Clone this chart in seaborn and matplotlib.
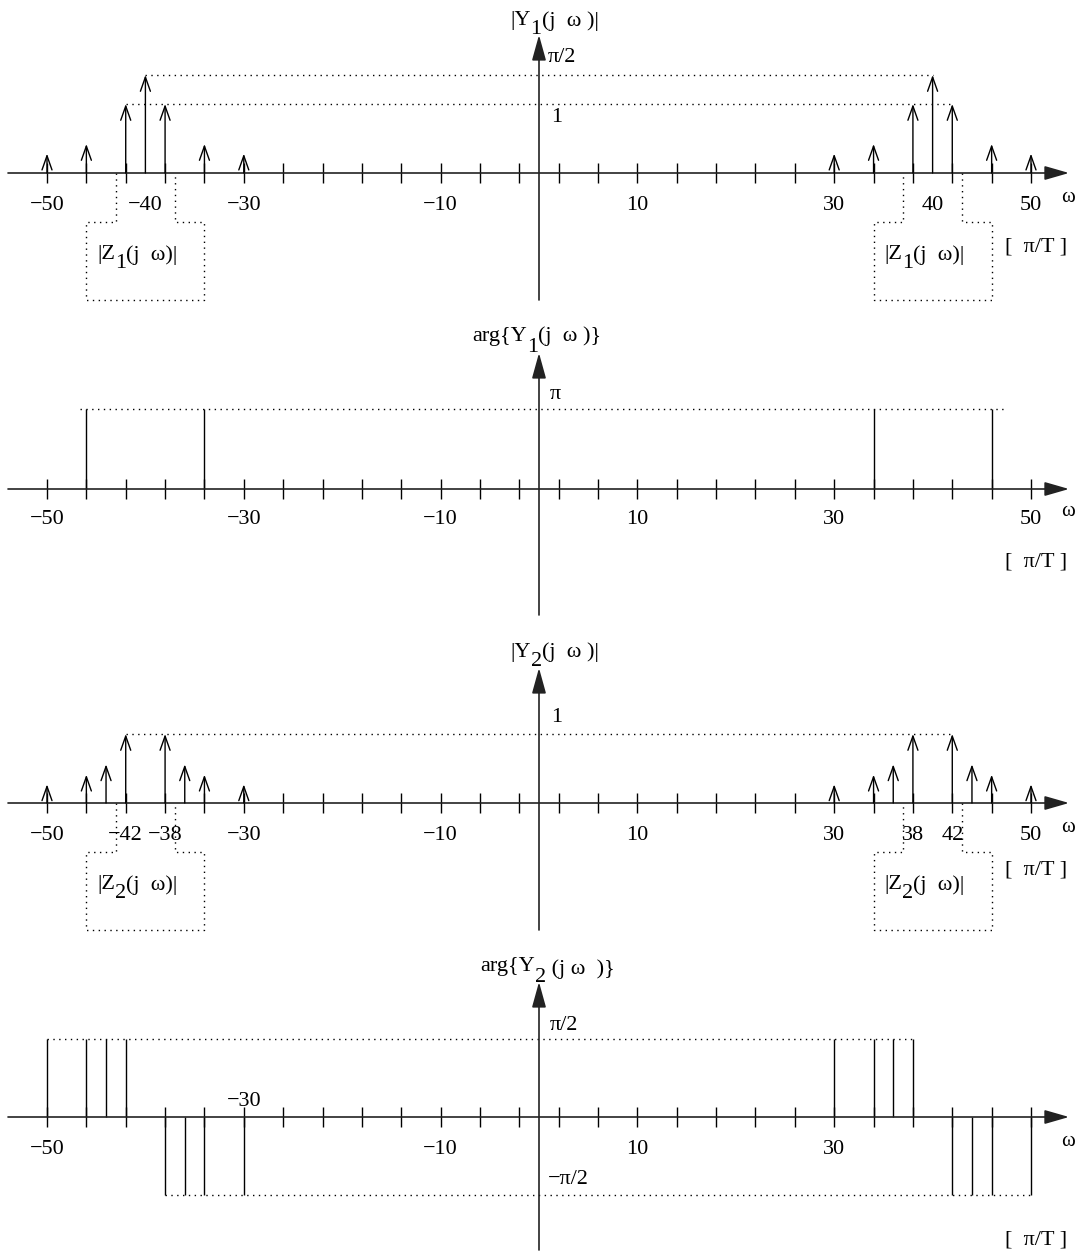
#!/usr/bin/env python3
"""Spectra of y1 and y2: magnitude and phase line spectra, drawn xfig-style."""

import matplotlib

matplotlib.use("Agg")
import matplotlib.pyplot as plt
import numpy as np
import seaborn as sns

W, H = 1083, 1255
X0_PX = 539.0          # pixel column of omega = 0
PX_PER_W = 9.84        # pixels per omega unit (pi/T)

# axis ticks (omega in pi/T)
TICKS = [-50, -46, -42, -38, -34, -30, -26, -22, -18, -14, -10, -6, -2,
         2, 6, 10, 14, 18, 22, 26, 30, 34, 38, 42, 46, 50]

# |Y1(j omega)|  (drawn heights, 1 = unit line, pi/2 line above it)
Y1_W = [-50, -46, -42, -40, -38, -34, -30, 30, 34, 38, 40, 42, 46, 50]
Y1_MAG = [0.28, 0.42, 1.0, 1.42, 1.0, 0.42, 0.28,
          0.28, 0.42, 1.0, 1.42, 1.0, 0.42, 0.28]

# arg{Y1(j omega)} in units of pi
Y1_PH_W = [-46, -34, 34, 46]
Y1_PHASE = [1.0, 1.0, 1.0, 1.0]

# |Y2(j omega)|
Y2_W = [-50, -46, -44, -42, -38, -36, -34, -30, 30, 34, 36, 38, 42, 44, 46, 50]
Y2_MAG = [0.27, 0.41, 0.56, 1.0, 1.0, 0.56, 0.41, 0.27,
          0.27, 0.41, 0.56, 1.0, 1.0, 0.56, 0.41, 0.27]

# arg{Y2(j omega)} in units of pi
Y2_PH_W = [-50, -46, -44, -42, -38, -36, -34, -30, 30, 34, 36, 38, 42, 44, 46, 50]
Y2_PHASE = [0.5, 0.5, 0.5, 0.5, -0.5, -0.5, -0.5, -0.5,
            0.5, 0.5, 0.5, 0.5, -0.5, -0.5, -0.5, -0.5]

# tick labels per panel
LAB_Y1 = [-50, -40, -30, -10, 10, 30, 40, 50]
LAB_PH1 = [-50, -30, -10, 10, 30, 50]
LAB_Y2 = [-50, -42, -38, -30, -10, 10, 30, 38, 42, 50]
LAB_PH2 = [-50, -10, 10, 30]

DOT = (0, (1, 3.2))
FONT = ["Liberation Serif", "DejaVu Serif"]
FS = 16


def w_of(px):
    return (px - X0_PX) / PX_PER_W


def minus(v):
    return f"{v}".replace("-", "\u2212")


def make_panel(fig, top, bottom, axis_px, ppu):
    ax = fig.add_axes([0, 1 - bottom / H, 1, (bottom - top) / H])
    ax.set_xlim(w_of(0), w_of(W))
    ax.set_ylim(-(bottom - axis_px) / ppu, (axis_px - top) / ppu)
    ax.set_axis_off()
    return ax


def draw_axes(ax, ppu, y_bottom_px, y_tip_px):
    # omega axis with filled arrow
    ax.annotate("", xy=(w_of(1069), 0), xytext=(w_of(8), 0),
                arrowprops=dict(arrowstyle="-|>,head_length=1.25,head_width=0.36",
                                lw=1.2, color="#222222", shrinkA=0, shrinkB=0))
    ax.vlines(TICKS, -10 / ppu, 10 / ppu, lw=1.0, color="black")
    # vertical axis
    ax.annotate("", xy=(0, y_tip_px / ppu), xytext=(0, y_bottom_px / ppu),
                arrowprops=dict(arrowstyle="-|>,head_length=1.3,head_width=0.36",
                                lw=1.2, color="#222222", shrinkA=0, shrinkB=0))


def tick_labels(ax, values, dy=-32):
    for v in values:
        ax.annotate(minus(v), xy=(v, 0), xytext=(0, dy), textcoords="offset pixels",
                    ha="center", va="center", fontsize=FS)


def unit_labels(ax, dy_pi_t, dy_omega):
    ax.annotate("\u03c9", xy=(w_of(1068), 0), xytext=(0, -dy_omega),
                textcoords="offset pixels", ha="center", va="center", fontsize=15)
    ax.annotate("[  \u03c0/T ]", xy=(w_of(1036), 0), xytext=(0, -dy_pi_t),
                textcoords="offset pixels", ha="center", va="center", fontsize=FS)


def label(fig, s, x, y, size=FS):
    fig.text(x / W, 1 - y / H, s, ha="left", va="center", fontsize=size)


def compose(fig, x, y, parts, size=FS):
    # lay text pieces side by side; dy shifts a piece down (subscripts)
    r = fig.canvas.get_renderer()
    for s, dy in parts:
        t = fig.text(x / W, 1 - (y + dy) / H, s, ha="left", va="center", fontsize=size)
        x = t.get_window_extent(r).x1


def arrows(ax, ws, hs):
    for w, h in zip(ws, hs):
        ax.annotate("", xy=(w, h), xytext=(w, 0),
                    arrowprops=dict(arrowstyle="->,head_length=0.85,head_width=0.3",
                                    lw=1.0, color="black", shrinkA=0, shrinkB=0))


def guide(ax, y, x0, x1):
    ax.plot([x0, x1], [y, y], ls=DOT, lw=1.0, color="black")


def z_boxes(ax, ppu):
    notch, base = -49 / ppu, -127 / ppu
    for s in (-1, 1):
        xs = [s * 43, s * 43, s * 46, s * 46, s * 34, s * 34, s * 37, s * 37]
        ys = [0, notch, notch, base, base, notch, notch, 0]
        ax.plot(xs, ys, ls=DOT, lw=1.0, color="black")


def z_labels(fig, y, sub):
    for x in (97, 884):
        compose(fig, x, y, [("|Z", 0), (sub, 8), ("(j  \u03c9)|", 0)])


def main():
    sns.set_theme(style="white")
    plt.rcParams["font.family"] = FONT
    plt.rcParams["text.color"] = "black"

    fig = plt.figure(figsize=(W / 100, H / 100), dpi=100)
    fig.patch.set_facecolor("white")

    # ---- panel 1: |Y1| ----
    ppu1 = 69.0
    ax1 = make_panel(fig, 0, 315, 173, ppu1)
    draw_axes(ax1, ppu1, -127, 138)
    mag1 = np.array(Y1_MAG)
    w1 = np.array(Y1_W)
    top1 = mag1.max()
    guide(ax1, top1, w1[mag1 == top1].min(), w1[mag1 == top1].max())
    guide(ax1, 1.0, w1[mag1 == 1.0].min(), w1[mag1 == 1.0].max())
    arrows(ax1, Y1_W, Y1_MAG)
    z_boxes(ax1, ppu1)
    tick_labels(ax1, LAB_Y1)
    unit_labels(ax1, 74, 24)
    compose(fig, 510, 21, [("|Y", 0), ("1", 8), ("(j  \u03c9 )|", 0)])
    label(fig, "\u03c0/2", 548, 58)
    label(fig, "1", 551, 117)
    z_labels(fig, 255, "1")

    # ---- panel 2: arg{Y1} ----
    ppu2 = 80.0
    ax2 = make_panel(fig, 315, 630, 489, ppu2)
    draw_axes(ax2, ppu2, -126, 136)
    guide(ax2, max(Y1_PHASE), w_of(80), w_of(1007))
    ax2.vlines(Y1_PH_W, 0, Y1_PHASE, lw=1.0, color="black")
    tick_labels(ax2, LAB_PH1, dy=-31)
    unit_labels(ax2, 73, 23)
    compose(fig, 472, 336, [("arg{Y", 0), ("1", 12), ("(j  \u03c9 )}", 0)])
    label(fig, "\u03c0", 550, 395)

    # ---- panel 3: |Y2| ----
    ppu3 = 69.0
    ax3 = make_panel(fig, 630, 945, 803, ppu3)
    draw_axes(ax3, ppu3, -127, 135)
    mag2 = np.array(Y2_MAG)
    w2 = np.array(Y2_W)
    guide(ax3, 1.0, w2[mag2 == 1.0].min(), w2[mag2 == 1.0].max())
    arrows(ax3, Y2_W, Y2_MAG)
    z_boxes(ax3, ppu3)
    tick_labels(ax3, LAB_Y2)
    unit_labels(ax3, 67, 25)
    compose(fig, 510, 652, [("|Y", 0), ("2", 10), ("(j  \u03c9 )|", 0)])
    label(fig, "1", 551, 718)
    z_labels(fig, 885, "2")

    # ---- panel 4: arg{Y2} ----
    ppu4 = 156.0
    ax4 = make_panel(fig, 945, 1255, 1117, ppu4)
    draw_axes(ax4, ppu4, -133, 135)
    ph2 = np.array(Y2_PHASE)
    wp2 = np.array(Y2_PH_W)
    guide(ax4, ph2.max(), wp2[ph2 > 0].min(), wp2[ph2 > 0].max())
    guide(ax4, ph2.min(), wp2[ph2 < 0].min(), wp2[ph2 < 0].max())
    ax4.vlines(Y2_PH_W, 0, Y2_PHASE, lw=1.0, color="black")
    tick_labels(ax4, LAB_PH2)
    tick_labels(ax4, [-30], dy=15)
    unit_labels(ax4, 123, 25)
    compose(fig, 480, 966, [("arg{Y", 0), ("2", 11), (" (j \u03c9  )}", 3)])
    label(fig, "\u03c0/2", 550, 1025)
    label(fig, "\u2212\u03c0/2", 548, 1180)

    fig.savefig("out.png", dpi=100, facecolor="white")
    plt.close(fig)


if __name__ == "__main__":
    main()
